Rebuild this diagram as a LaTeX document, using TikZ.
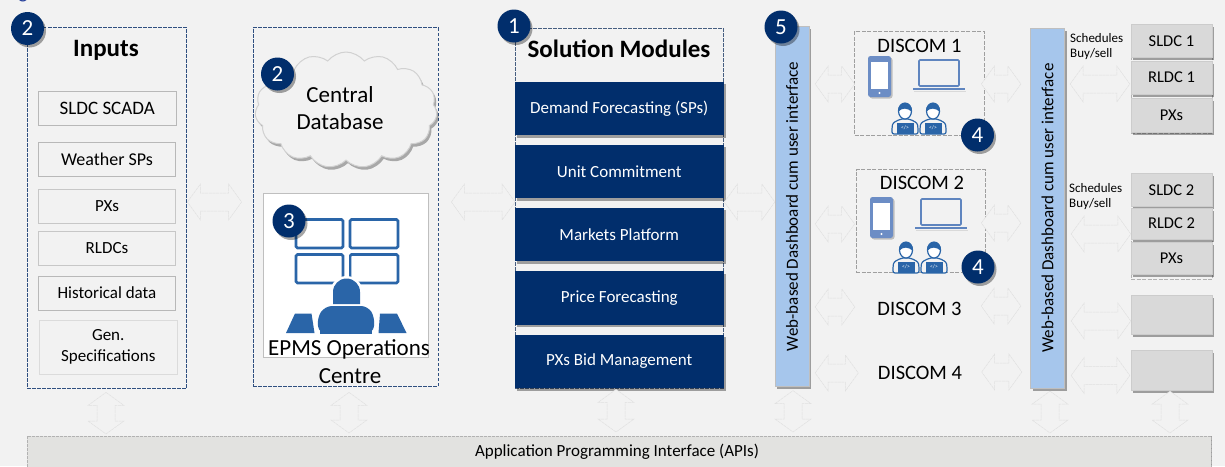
\documentclass[tikz,border=0pt]{standalone}
\usepackage{fontspec}
\setmainfont{Carlito}
\usetikzlibrary{shapes.symbols,shadows,calc}
\definecolor{bgc}{HTML}{F2F2F2}
\definecolor{navy}{HTML}{012E6C}
\definecolor{dashblue}{HTML}{2F4F80}
\definecolor{iconblue}{HTML}{2A65A8}
\definecolor{phoneblue}{HTML}{6C8DC5}
\definecolor{barblue}{HTML}{A6C6EC}
\definecolor{arrowline}{HTML}{E0E0E0}
\definecolor{rboxc}{HTML}{D9D9D9}
\definecolor{apic}{HTML}{E2E2E0}
\newcommand{\fs}[1]{\fontsize{#1}{#1}\selectfont}
\tikzset{
  softshadow/.style={drop shadow={shadow xshift=2pt,shadow yshift=-2.5pt,opacity=.35,fill=black}},
  badge/.style={circle,fill=navy,text=white,minimum size=33pt,inner sep=0pt,font=\fs{23},softshadow},
  dashbox/.style={draw=dashblue,line width=.8pt,dash pattern=on 3.5pt off 1.5pt,inner sep=0pt},
  greybox/.style={draw=gray!75,line width=.7pt,dash pattern=on 4pt off 1.5pt,inner sep=0pt},
  inbox/.style={draw=#1,line width=.7pt,inner sep=0pt,minimum width=137.5pt,minimum height=34pt,font=\fs{17},align=center},
  inbox/.default=black!28,
  modbox/.style={fill=navy,text=white,inner sep=0pt,minimum width=208.5pt,minimum height=53.5pt,font=\fs{17},softshadow},
  webbar/.style={fill=barblue,draw=gray!50,line width=.3pt,inner sep=0pt,minimum width=34pt,minimum height=360pt,font=\fs{17},softshadow},
  rbox/.style={fill=rboxc,draw=gray!40,line width=.4pt,inner sep=0pt,minimum width=81pt,font=\fs{16.5},softshadow},
  discom/.style={inner sep=0pt,minimum width=129pt,font=\fs{20.5}},
  sched/.style={inner sep=0pt,anchor=west,align=left,font=\fs{13}},
  harrow/.style 2 args={arrowline,fill=bgc,line width=.5pt,dash pattern=on 3pt off .6pt,to path={
    let \p1=(\tikztostart),\p2=(\tikztotarget) in
    (\x1+#1pt,\y1) -- (\x1+#1pt+13pt,\y1+18pt) -- (\x1+#1pt+13pt,\y1+9pt)
    -- (\x2-#2pt-13pt,\y1+9pt) -- (\x2-#2pt-13pt,\y1+18pt) -- (\x2-#2pt,\y1)
    -- (\x2-#2pt-13pt,\y1-18pt) -- (\x2-#2pt-13pt,\y1-9pt)
    -- (\x1+#1pt+13pt,\y1-9pt) -- (\x1+#1pt+13pt,\y1-18pt) -- cycle}},
  varrow/.style 2 args={arrowline,fill=bgc,line width=.5pt,dash pattern=on 3pt off .6pt,to path={
    let \p1=(\tikztostart),\p2=(\tikztotarget) in
    (\x1,\y1-#1pt) -- (\x1+18pt,\y1-#1pt-13pt) -- (\x1+9pt,\y1-#1pt-13pt)
    -- (\x1+9pt,\y2+#2pt+13pt) -- (\x1+18pt,\y2+#2pt+13pt) -- (\x1,\y2+#2pt)
    -- (\x1-18pt,\y2+#2pt+13pt) -- (\x1-9pt,\y2+#2pt+13pt)
    -- (\x1-9pt,\y1-#1pt-13pt) -- (\x1-18pt,\y1-#1pt-13pt) -- cycle}},
  phoneicon/.pic={
    \fill[black!25,rounded corners=2.5pt] (1.5,1.5) rectangle (24.5,42.5);
    \fill[phoneblue,rounded corners=2.5pt] (0,0) rectangle (23,41);
    \fill[white] (3,6) rectangle (20,33);
    \fill[white] (11.5,37) circle (1.2);
  },
  laptopicon/.pic={
    \draw[black!15,line width=1pt] (1,31) -- (53,31);
    \draw[phoneblue!80!iconblue,fill=bgc,line width=1.6pt,rounded corners=1pt] (6,0) rectangle (46,26);
    \fill[phoneblue!80!iconblue] (0,27.5) rectangle (52,29.5);
  },
  personicon/.pic={
    \draw[iconblue,line width=1.2pt,fill=bgc,rounded corners=2pt] (-13,16) -- (-13,9) .. controls (-12,4) and (-8,3) .. (-5,1) -- (5,1) .. controls (8,3) and (12,4) .. (13,9) -- (13,16) -- cycle;
    \draw[iconblue,fill=white,line width=1.2pt] (0,-7) ellipse (6.5pt and 8pt);
    \fill[iconblue] (-7,-6) .. controls (-8,-18) and (8,-18) .. (7,-6) .. controls (3,-10) and (-3,-11) .. (-7,-6) -- cycle;
    \fill[iconblue] (-8.5,4.5) rectangle (8.5,16);
    \node[text=white,inner sep=0pt,font=\fs{5.5}] at (0,10) {</>};
  },
}
\begin{document}
\begin{tikzpicture}[x=1pt,y=-1pt]
\useasboundingbox (0,0) rectangle (1225,466);
\fill[bgc] (0,0) rectangle (1225,466);
\node[text=dashblue!80!blue,inner sep=0pt,anchor=base,font=\fs{20}] (ttl) at (23,-1.5) {g};

% Bottom API bar
\node[fill=apic,draw=gray!60,line width=.6pt,dash pattern=on 3pt off 1pt,inner sep=0pt,minimum width=1184pt,minimum height=40pt,anchor=north west,drop shadow={shadow xshift=1.5pt,shadow yshift=0pt,opacity=.35,fill=black}] (api) at (26.5,436) {};
\node[inner sep=0pt,font=\fs{17}] (apit) at (617,452) {Application Programming Interface (APIs)};

% Inputs
\node[dashbox,minimum width=159.5pt,minimum height=360.5pt] (inputs) at (106.75,207.75) {};
\node[inner sep=0pt,font=\bfseries\fs{25}] (inputst) at (106,50) {Inputs};
\node[inbox,font=\fs{19}] (i1) at (107.25,108) {SLDC SCADA};
\node[inbox,font=\fs{18}] (i2) at (107,159) {Weather SPs};
\node[inbox=black!22] (i3) at (107,206) {PXs};
\node[inbox=black!22] (i4) at (107,248) {RLDCs};
\node[inbox] (i5) at (107,293) {Historical data};
\node[inbox=black!14,minimum height=54pt] (i6) at (108.25,347) {Gen.\\[4pt]Specifications};

% Central box
\node[dashbox,minimum width=185pt,minimum height=358.5pt] (central) at (345.5,206.75) {};
\node[cloud,cloud puffs=15,cloud puff arc=105,cloud ignores aspect,draw=black!18,fill=bgc,line width=1pt,minimum width=182pt,minimum height=116pt,inner sep=0pt,align=center,font=\fs{23},drop shadow={shadow xshift=2pt,shadow yshift=-3pt,opacity=.3,fill=black}] (cloud) at (346,110) {};
\node[inner sep=0pt,align=center,font=\fs{23}] (cloudt) at (340,108.5) {Central\\[4pt]Database};

% EPMS
\node[fill=white,draw=black!25,line width=.5pt,inner sep=0pt,minimum width=165pt,minimum height=164pt] (epms) at (346,275.5) {};
\begin{scope}[iconblue,line width=2.8pt,rounded corners=1.5pt]
  \draw (296,219.5) rectangle (343,248);
  \draw (350,219.5) rectangle (398,248);
  \draw (296,254.5) rectangle (343,283);
  \draw (350,254.5) rectangle (398,283);
\end{scope}
\fill[white] (344.5,250) rectangle (348.5,285);
\fill[white] (346.5,292) circle (16);
\fill[iconblue] (333,304) -- (333,292) arc[start angle=180,end angle=360,radius=13.5] -- (360,304) -- cycle;
\fill[iconblue,rounded corners=7pt] (319,333.5) -- (317,318) -- (325,306) -- (368,306) -- (375,318) -- (373,333.5) -- cycle;
\fill[iconblue] (320,325) rectangle (372,333.5);
\fill[iconblue] (286,333) -- (295,313.5) -- (311.5,313.5) -- (314.5,333) -- cycle;
\fill[iconblue] (378.5,333) -- (380,313.5) -- (397,313.5) -- (406.5,333) -- cycle;
\node[inner sep=0pt,font=\fs{23}] (epmst) at (349,349) {EPMS Operations};
\node[inner sep=0pt,font=\fs{23}] (epmsc) at (350,376) {Centre};

% Solution modules
\node[draw=dashblue!70!gray,line width=.8pt,dash pattern=on 3.5pt off 1.5pt,inner sep=0pt,minimum width=208.5pt,minimum height=359.5pt] (sol) at (619.25,208.25) {};
\node[inner sep=0pt,font=\bfseries\fs{25}] (solt) at (619,49) {Solution Modules};
\node[modbox] (m1) at (619.25,108.25) {\raisebox{-1pt}{Demand Forecasting (SPs)}};
\node[modbox] (m2) at (619.25,171.25) {\raisebox{-1pt}{Unit Commitment}};
\node[modbox] (m3) at (619.25,234.5) {\raisebox{-1pt}{Markets Platform}};
\node[modbox] (m4) at (619.25,297.75) {\raisebox{-1pt}{Price Forecasting}};
\node[modbox] (m5) at (619.25,361.5) {\raisebox{-1pt}{PXs Bid Management}};

% Web bars
\node[webbar] (web1) at (792,206.5) {\rotatebox{90}{Web-based Dashboard cum user interface}};
\node[webbar] (web2) at (1047.5,208) {\rotatebox{90}{Web-based Dashboard cum user interface}};

% DISCOMs
\node[greybox,minimum width=129.5pt,minimum height=104pt] (d1) at (919.25,83) {};
\node[greybox,minimum width=129pt,minimum height=103pt] (d2) at (920.5,221) {};
\node[inner sep=0pt,font=\fs{20.5}] (d1t) at (919.5,46) {DISCOM 1};
\node[inner sep=0pt,font=\fs{20.5}] (d2t) at (922,183) {DISCOM 2};
\node[discom] (d3) at (919.5,309) {DISCOM 3};
\node[discom] (d4) at (920,373) {DISCOM 4};
\pic at (868,56) {phoneicon};
\pic at (913,60) {laptopicon};
\pic at (905,118) {personicon};
\pic at (933,118) {personicon};
\pic at (870,197) {phoneicon};
\pic at (915,199) {laptopicon};
\pic at (906,257) {personicon};
\pic at (934,257) {personicon};

% Right column
\node[greybox,minimum width=81pt,minimum height=109pt,draw=gray!60] (rg1) at (1171.5,78.75) {};
\node[greybox,minimum width=81pt,minimum height=106pt,draw=gray!60] (rg2) at (1171.5,226) {};
\node[rbox,minimum height=32.5pt] (s1) at (1171.5,40.75) {SLDC 1};
\node[rbox,minimum height=33pt] (r1) at (1171.5,77.5) {RLDC 1};
\node[rbox,minimum height=34pt] (p1) at (1171.5,115) {PXs};
\node[rbox,minimum height=33pt] (s2) at (1171.5,190) {SLDC 2};
\node[rbox,minimum height=31pt] (r2) at (1171.5,223.5) {RLDC 2};
\node[rbox,minimum height=32pt] (p2) at (1171.5,258) {PXs};
\node[rbox,minimum height=39pt] (e1) at (1171.5,314.5) {};
\node[rbox,minimum height=40pt] (e2) at (1171.5,370) {};
\node[sched] (sc1) at (1070,38) {Schedules};
\node[sched] (bs1) at (1070,54) {Buy/sell};
\node[sched] (sc2) at (1069,188) {Schedules};
\node[sched] (bs2) at (1069,204) {Buy/sell};

% Block arrows
\draw[harrow={.5}{11}] (inputs.east |- 0,202) to (central.west |- 0,202);
\draw[harrow={13}{-.5}] (central.east |- 0,202) to (sol.west |- 0,202);
\draw[harrow={.5}{0}] (sol.east |- 0,202) to (web1.west |- 0,202);
\draw[harrow={6}{-.5}] (web1.east |- 0,84) to (d1.west |- 0,84);
\draw[harrow={6}{1}] (web1.east |- 0,224) to (d2.west |- 0,224);
\draw[harrow={6}{0}] (web1.east |- 0,307) to (d3.west |- 0,307);
\draw[harrow={6}{-3}] (web1.east |- 0,373) to (d4.west |- 0,373);
\draw[harrow={-3}{9.5}] (d1.east |- 0,84) to (web2.west |- 0,84);
\draw[harrow={-4}{9.5}] (d2.east |- 0,223) to (web2.west |- 0,223);
\draw[harrow={-3}{9.5}] (d3.east |- 0,306) to (web2.west |- 0,306);
\draw[harrow={-3}{8.5}] (d4.east |- 0,372) to (web2.west |- 0,372);
\draw[harrow={5.5}{1}] (web2.east |- 0,84) to (r1.west |- 0,84);
\draw[harrow={6.5}{0}] (web2.east |- 0,234) to (r2.west |- 0,234);
\draw[harrow={6.5}{0}] (web2.east |- 0,321) to (e1.west |- 0,321);
\draw[harrow={6.5}{1}] (web2.east |- 0,375.5) to (e2.west |- 0,375.5);
\draw[varrow={4}{2}] (inputs.south -| 106,0) to (api.north -| 106,0);
\draw[varrow={6}{3}] (central.south -| 349,0) to (api.north -| 349,0);
\draw[varrow={1}{4}] (sol.south -| 616,0) to (api.north -| 616,0);
\draw[varrow={4}{4}] (web1.south -| 793,0) to (api.north -| 793,0);
\draw[varrow={3}{3}] (web2.south -| 1050,0) to (api.north -| 1050,0);
\draw[varrow={1}{3}] (e2.south -| 1170,0) to (api.north -| 1170,0);

% Badges
\node[badge] (b2a) at (27.5,28.5) {2};
\node[badge] (b2b) at (277.5,74) {2};
\node[badge] (b3) at (289,221) {3};
\node[badge] (b1) at (514,26) {1};
\node[badge] (b5) at (781,27) {5};
\node[badge] (b4a) at (977.5,135) {4};
\node[badge] (b4b) at (978,267) {4};
\end{tikzpicture}
\end{document}
